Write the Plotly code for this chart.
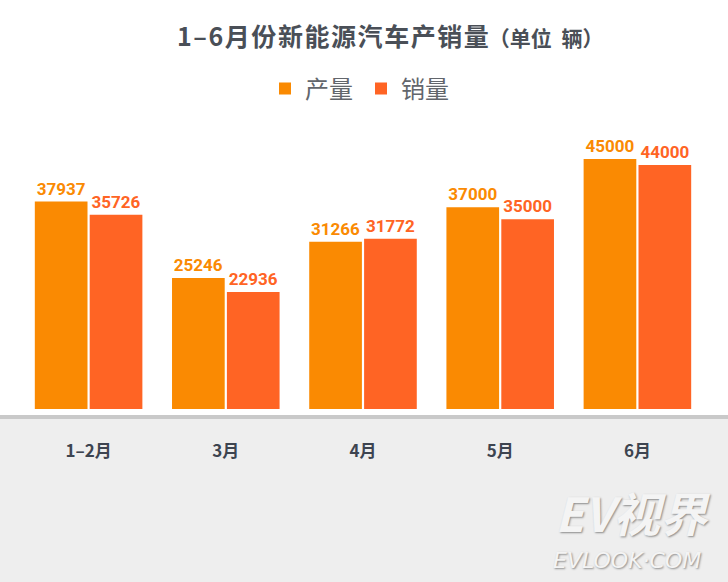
import plotly.graph_objects as go

categories = ["1–2月", "3月", "4月", "5月", "6月"]
production = [37937, 25246, 31266, 37000, 45000]
sales = [35726, 22936, 31772, 35000, 44000]
series_names = ["产量", "销量"]

c_prod = "#FA8A02"
c_sales = "#FF6424"
cjk = "Noto Sans CJK SC"

fig = go.Figure()
fig.add_trace(go.Bar(
    x=categories, y=production, name=series_names[0],
    marker=dict(color=c_prod, line=dict(width=0)),
    text=[str(v) for v in production], textposition="outside",
    textfont=dict(color=c_prod, size=17, family="Roboto", weight="bold"),
    cliponaxis=False,
))
fig.add_trace(go.Bar(
    x=categories, y=sales, name=series_names[1],
    marker=dict(color=c_sales, line=dict(width=0)),
    text=[str(v) for v in sales], textposition="outside",
    textfont=dict(color=c_sales, size=17, family="Roboto", weight="bold"),
    cliponaxis=False,
))

W, H = 728, 582
ml, mr, mt, mb = 20, 22, 120, 173
pw = W - ml - mr
ph = H - mt - mb

def px_x(p):
    return (p - ml) / pw

def px_y(p):
    return (H - mb - p) / ph

shapes = [
    dict(type="rect", xref="paper", yref="paper",
         x0=px_x(0), x1=px_x(W), y0=px_y(419), y1=px_y(H),
         fillcolor="#EEEEEE", line=dict(width=0), layer="below"),
    dict(type="rect", xref="paper", yref="paper",
         x0=px_x(0), x1=px_x(W), y0=px_y(415), y1=px_y(419),
         fillcolor="#C9C9C9", line=dict(width=0), layer="below"),
]

title_main = "\u200a".join("1–6月份新能源汽车产销量")
annotations = [
    dict(text="<b>" + title_main + "</b><span style='font-size:21px'><b>（单位  辆）</b></span>",
         xref="paper", yref="paper", x=px_x(390), y=px_y(35),
         xanchor="center", yanchor="middle", showarrow=False,
         font=dict(family=cjk, size=25, color="#4A4F57")),
    dict(text="<i><b>EV视界</b></i>", xref="paper", yref="paper",
         x=px_x(633), y=px_y(511), xanchor="center", yanchor="middle",
         showarrow=False,
         font=dict(family=cjk, size=47, color="#F4F4F4",
                   shadow="1px 1px 2px #8a8a8a")),
    dict(text="<i>EVLOOK·COM</i>", xref="paper", yref="paper",
         x=px_x(627), y=px_y(560), xanchor="center", yanchor="middle",
         showarrow=False,
         font=dict(family="DejaVu Sans", size=22, color="#F4F4F4",
                   shadow="1px 1px 2px #8a8a8a")),
]

fig.update_layout(
    width=W, height=H,
    margin=dict(l=ml, r=mr, t=mt, b=mb, pad=0),
    paper_bgcolor="white", plot_bgcolor="white",
    barmode="group", bargap=0.2, bargroupgap=0.04,
    showlegend=True,
    legend=dict(orientation="h", x=px_x(265), y=px_y(89),
                xanchor="left", yanchor="middle",
                font=dict(family=cjk, size=24, color="#62666C"),
                entrywidth=51, entrywidthmode="pixels",
                bgcolor="rgba(0,0,0,0)"),
    xaxis=dict(showline=False, showgrid=False, zeroline=False,
               ticks="outside", ticklen=27, tickcolor="rgba(0,0,0,0)",
               tickfont=dict(family=cjk, size=17, color="#3D4450", weight="bold"),
               range=[-0.5, 4.5]),
    yaxis=dict(visible=False, range=[3487, 51478]),
    shapes=shapes,
    annotations=annotations,
    font=dict(family=cjk),
)

fig.write_html("out.html")
